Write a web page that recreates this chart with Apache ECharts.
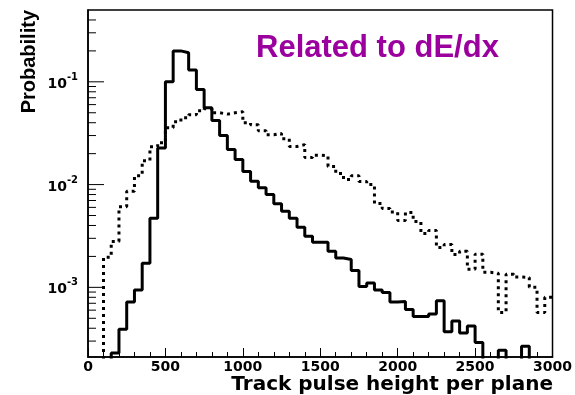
<!DOCTYPE html>
<html><head><meta charset="utf-8">
<script src="https://cdn.jsdelivr.net/npm/echarts@6/dist/echarts.min.js"></script>
<style>html,body{margin:0;padding:0;background:#fff}#c{width:575px;height:395px}</style>
</head><body><div id="c"></div>
<script>
// Left edges of the 50-unit bins (track pulse height per plane)
const binEdges = [0,50,100,150,200,250,300,350,400,450,500,550,600,650,700,750,800,850,900,950,
  1000,1050,1100,1150,1200,1250,1300,1350,1400,1450,1500,1550,1600,1650,1700,1750,1800,1850,1900,1950,
  2000,2050,2100,2150,2200,2250,2300,2350,2400,2450,2500,2550,2600,2650,2700,2750,2800,2850,2900,2950];
const xMax = 3000;
// Solid histogram (0 = empty bin / below axis range)
const solidValues = [0,0,0,0.00023,0.00039,0.00072,0.00094,0.00172,0.0047,0.0227,
  0.100,0.200,0.192,0.130,0.084,0.056,0.042,0.030,0.022,0.0175,
  0.0134,0.0108,0.0093,0.0080,0.0065,0.0055,0.0047,0.00385,0.00315,0.00275,
  0.00275,0.00224,0.00193,0.00187,0.00146,0.00102,0.0011,0.00094,0.00089,0.00072,
  0.00073,0.00061,0.00052,0.00052,0.00055,0.00074,0.00037,0.00047,0.00036,0.00042,
  0.00029,0,0,0.000244,0,0,0.000267,0,0,0];
// Dotted histogram
const dottedValues = [0,0,0.00196,0.0028,0.0061,0.0086,0.0122,0.0171,0.0234,0.0256,
  0.0357,0.0409,0.0447,0.0478,0.0523,0.0547,0.050,0.0485,0.050,0.0512,
  0.040,0.0382,0.0334,0.0305,0.0315,0.028,0.0235,0.0245,0.0183,0.0193,
  0.0191,0.015,0.0128,0.0112,0.0122,0.0107,0.010,0.00655,0.00585,0.0054,
  0.00447,0.00535,0.00438,0.00334,0.00357,0.00244,0.00261,0.00209,0.00224,0.0015,
  0.0021,0.0014,0.00137,0.00057,0.00134,0.00126,0.00125,0.001,0.00057,0.0008];
const yMin = 0.00021, yMax = 0.5;
const yMajorTicks = [0.001, 0.01, 0.1];
const yMinorTicks = [0.0003,0.0004,0.0005,0.0006,0.0007,0.0008,0.0009,
  0.002,0.003,0.004,0.005,0.006,0.007,0.008,0.009,
  0.02,0.03,0.04,0.05,0.06,0.07,0.08,0.09,0.2,0.3,0.4];
const titleText = 'Related to dE/dx';
const xName = 'Track pulse height per plane';
const yName = 'Probability';

const FLOOR = 1e-6; // empty bins are drawn below the visible range
function stepData(vals){
  const d = binEdges.map((x,i)=>[x, vals[i] > 0 ? vals[i] : FLOOR]);
  d.push([xMax, vals[vals.length-1] > 0 ? vals[vals.length-1] : FLOOR]);
  return d;
}
const chart = echarts.init(document.getElementById('c'), null, {renderer:'canvas'});
const bold = {fontFamily:'DejaVu Sans', fontWeight:'bold', color:'#000'};
const GRID_LEFT = 88;
chart.setOption({
  animation:false,
  backgroundColor:'#fff',
  grid:{left:GRID_LEFT, right:22, top:10, bottom:38, show:true, borderColor:'#000', borderWidth:1.5, backgroundColor:'transparent'},
  title:[{text:titleText, left:251, top:28, textStyle:{fontFamily:'Liberation Sans', fontWeight:'bold', fontSize:31, color:'#9b009e'}}],
  xAxis:{type:'value', min:0, max:xMax, interval:500,
    axisLine:{show:true, lineStyle:{color:'#000', width:1.5}},
    axisTick:{show:true, inside:true, length:9, lineStyle:{color:'#000', width:1}},
    minorTick:{show:true, splitNumber:5, length:5, lineStyle:{color:'#000', width:1}},
    splitLine:{show:false}, minorSplitLine:{show:false},
    axisLabel:Object.assign({fontSize:14, margin:3, formatter:function(v){return String(v);}}, bold)
  },
  yAxis:{type:'log', logBase:10, min:yMin, max:yMax,
      axisLine:{show:true, lineStyle:{color:'#000', width:1.5}},
      axisTick:{show:false},
      splitLine:{show:false},
      axisLabel:{customValues:yMajorTicks, margin:10,
        formatter:function(v){ const e = Math.round(Math.log10(v)); return '{b|10}{s|' + e + '}'; },
        rich:{
          b:{fontFamily:'DejaVu Sans', fontWeight:'bold', fontSize:14, color:'#000', lineHeight:19, verticalAlign:'bottom'},
          s:{fontFamily:'DejaVu Sans', fontWeight:'bold', fontSize:10, color:'#000', verticalAlign:'top'}
        }}
  },
  series:[
    {type:'line', name:'dotted', step:'end', data:stepData(dottedValues), showSymbol:false, symbol:'none', clip:true,
      lineStyle:{color:'#000', width:3, type:[3,4], cap:'butt'}},
    {type:'line', name:'solid', step:'end', data:stepData(solidValues), showSymbol:false, symbol:'none', clip:true,
      lineStyle:{color:'#000', width:3}}
  ]
});
// y-axis ticks (major long, minor short), positioned through the axis scale
const tickEls = [];
function addTicks(vals, len){
  vals.forEach(v=>{
    const p = chart.convertToPixel({yAxisIndex:0}, v);
    tickEls.push({type:'line', silent:true, shape:{x1:GRID_LEFT, y1:p, x2:GRID_LEFT+len, y2:p}, style:{stroke:'#000', lineWidth:1}});
  });
}
addTicks(yMajorTicks, 16);
addTicks(yMinorTicks, 8);
tickEls.push({type:'text', x:553, y:385, style:{text:xName, fontFamily:'DejaVu Sans', fontWeight:'bold', fontSize:20, fill:'#000', align:'right', verticalAlign:'middle'}});
tickEls.push({type:'text', x:29, y:10, rotation:Math.PI/2, style:{text:yName, fontFamily:'Liberation Sans', fontWeight:'bold', fontSize:20, fill:'#000', align:'right', verticalAlign:'middle'}});
chart.setOption({graphic:tickEls});
</script></body></html>
